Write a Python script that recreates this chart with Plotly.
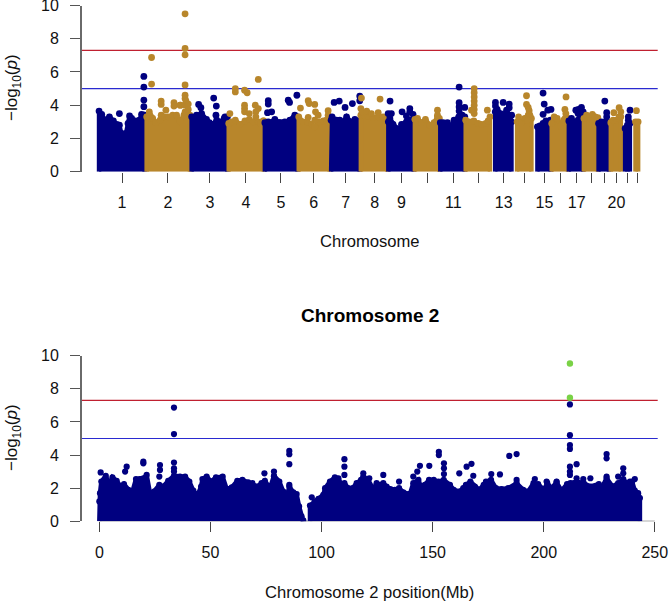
import plotly.graph_objects as go

W, H = 669, 601
NAVY = "#000080"
GOLD = "#b8862b"
GREEN = "#7ad246"
RED = "#c02030"
BLUE = "#2a2ad0"
AXIS = "#555555"
FONT = "Liberation Sans"

chr_sizes = [249, 243, 198, 191, 181, 171, 159, 146, 141, 135, 135, 133,
             115, 107, 102, 90, 81, 78, 59, 63, 48, 51]

genome_ticks = [125, 369, 592, 783, 969, 1144, 1313, 1467, 1610, 1885, 2153, 2369, 2541, 2752]
genome_labels = ["1", "2", "3", "4", "5", "6", "7", "8", "9", "11", "13", "15", "17", "20"]
genome_unlabelled_ticks = [1748, 2019, 2265, 2456, 2620, 2690, 2812, 2865]

# upper outline of the dense cloud, genome-wide
mass_x = [3, 17, 35, 58, 79, 97, 111, 122, 134, 146, 157, 165, 176, 194, 217, 229, 245,
          256, 270, 288, 305, 327, 348, 371, 394, 415, 433, 454, 468, 486,
          495, 521, 548, 574, 589, 606, 628, 649, 668, 685,
          692, 707, 727, 752, 778, 801, 822, 849, 861, 878,
          884, 902, 928, 955, 964, 990, 1017, 1043, 1058,
          1064, 1087, 1110, 1132, 1149, 1171, 1194, 1211, 1228,
          1236, 1241, 1264, 1282, 1300, 1318, 1341, 1362, 1374, 1388,
          1394, 1411, 1433, 1459, 1486, 1512, 1534,
          1540, 1548, 1565, 1583, 1595, 1610, 1636, 1654, 1675,
          1681, 1695, 1716, 1737, 1760, 1783, 1801, 1811,
          1816, 1831, 1854, 1872, 1889, 1914, 1932, 1946,
          1951, 1970, 1994, 2017, 2035, 2058, 2070, 2080,
          2108, 2118, 2136, 2154, 2171, 2186, 2194,
          2224, 2232, 2247, 2265, 2283, 2300,
          2332, 2345, 2362, 2377, 2389, 2403,
          2408, 2421, 2437, 2454, 2469, 2479, 2494,
          2499, 2513, 2531, 2548, 2561, 2575,
          2579, 2593, 2610, 2624, 2639, 2653,
          2657, 2672, 2690, 2700, 2712,
          2722, 2734, 2752, 2766, 2775,
          2798, 2810, 2823,
          2853, 2867, 2879]
mass_y = [3.65, 3.45, 3.1, 3.3, 3.05, 2.85, 2.8, 2.3, 1.7, 2.3, 2.9, 3.35, 3.2, 3.05, 3.1, 3.45, 3.4,
          3.3, 3.6, 3.2, 2.95, 3.1, 3.3, 3.3, 3.4, 3.4, 3.05, 3.4, 3.55, 3.4,
          3.3, 3.4, 3.5, 3.15, 2.95, 2.85, 3.1, 3.0, 3.2, 3.3,
          2.9, 3.0, 3.1, 2.85, 3.05, 3.15, 3.0, 3.0, 2.9, 3.05,
          2.95, 3.0, 3.0, 2.95, 2.95, 3.0, 3.1, 3.4, 3.3,
          3.3, 3.0, 3.0, 2.85, 2.7, 3.0, 3.05, 3.1, 3.1,
          3.1, 3.3, 3.1, 3.1, 3.0, 3.3, 3.0, 3.15, 3.05, 2.97,
          3.4, 3.4, 3.35, 3.25, 3.3, 3.3, 3.2,
          3.0, 3.2, 2.85, 2.6, 2.4, 2.85, 3.0, 3.1, 3.2,
          3.15, 3.2, 2.95, 3.15, 2.8, 2.95, 3.3, 3.2,
          2.95, 2.95, 2.95, 2.7, 3.1, 3.3, 3.4, 3.3,
          3.1, 3.0, 3.05, 2.9, 2.85, 2.9, 3.05, 3.3,
          3.6, 3.75, 3.5, 3.45, 3.5, 3.4, 3.0,
          3.0, 3.3, 2.95, 3.2, 3.4, 3.2,
          2.7, 2.75, 2.9, 3.05, 3.0, 3.05,
          2.9, 3.3, 3.2, 2.75, 3.0, 3.2, 3.2,
          3.05, 3.2, 2.95, 3.1, 3.3, 3.3,
          3.2, 3.4, 3.3, 3.45, 3.3, 3.25,
          2.9, 3.0, 3.0, 2.95, 2.95,
          2.95, 3.1, 3.1, 3.2, 3.3,
          2.6, 2.8, 2.9,
          3.0, 3.0, 3.3]

# isolated points standing above the cloud
peak_x = [111, 241, 241, 241, 241, 241,
          282, 282, 333, 333, 333, 358, 401, 401, 433, 436, 460, 460, 460, 460, 460, 460, 460, 460, 465, 477, 477,
          532, 544, 612, 626, 624, 672,
          698, 727, 727, 776, 790, 776, 776, 776, 801, 833, 849, 836, 836, 849, 875,
          902, 902, 898, 920, 937, 1008, 1015, 1054,
          1073, 1114, 1119, 1149, 1114, 1153, 1167, 1149, 1220, 1220,
          1252, 1279, 1310, 1349, 1388, 1388,
          1397, 1394, 1401, 1425, 1450, 1486, 1496,
          1549, 1556, 1539, 1613, 1654, 1654, 1636, 1671,
          1801, 1801,
          1916, 1916, 1916, 1916, 1946,
          1996, 1996, 1996, 1996, 1996, 1996, 1996, 1982, 2066,
          2109, 2109, 2150, 2182, 2182, 2168, 2195,
          2274, 2274, 2283, 2288, 2292, 2279,
          2362, 2368, 2387, 2404, 2362, 2401,
          2484, 2478, 2483, 2472,
          2536, 2550, 2566, 2575, 2548,
          2690, 2700, 2700,
          2738, 2766, 2775, 2766,
          2824, 2815, 2815,
          2858, 2879]
peak_y = [3.5, 5.73, 5.09, 4.31, 3.91, 3.41,
          6.87, 5.27, 4.25, 4.05, 3.4, 3.7, 4.15, 3.95, 4.0, 4.0, 9.5, 7.42, 7.03, 5.22, 4.6, 4.4, 4.0, 3.6, 4.25, 4.07, 3.75,
          4.05, 3.85, 4.43, 3.95, 3.4, 3.3,
          3.5, 5.0, 4.8, 4.9, 4.75, 4.0, 3.8, 3.6, 3.5, 4.0, 3.8, 3.6, 3.3, 5.55, 3.05,
          4.27, 4.07, 3.55, 3.6, 3.15, 4.3, 4.17, 4.6,
          3.83, 4.27, 4.1, 4.05, 3.27, 3.6, 3.4, 3.1, 3.67, 3.4,
          4.17, 4.25, 3.87, 4.1, 4.55, 4.27,
          4.43, 3.8, 3.6, 3.65, 3.5, 3.55, 4.37,
          4.25, 3.5, 3.5, 3.6, 3.8, 3.6, 3.35, 3.45,
          3.7, 3.4,
          5.09, 4.15, 3.9, 3.65, 3.87,
          5.0, 4.75, 4.5, 4.25, 4.0, 3.75, 3.5, 3.7, 3.7,
          4.17, 3.95, 4.17, 4.07, 3.85, 3.7, 3.4,
          4.57, 4.05, 3.87, 3.67, 3.4, 3.1,
          4.73, 4.07, 3.7, 3.75, 3.45, 3.1,
          4.5, 3.75, 3.5, 3.1,
          3.7, 3.75, 3.87, 3.6, 3.5,
          4.25, 3.55, 3.3,
          3.55, 3.85, 3.6, 3.3,
          3.7, 3.3, 3.1,
          3.67, 3.35]

chr2_ticks = [0, 50, 100, 150, 200, 250]
chr2_gap_mb = 93

# chromosome 2 cloud outline
chr2_mass_x = [0.0, 0.3, 0.9, 2.9, 4.5, 5.9, 7.8, 9.6, 11.1, 13.1, 14.6, 16.5, 18.3, 19.8, 21.3, 22.8,
               24.6, 27, 28.8, 31, 33.6, 36.3, 38.6, 40.5, 42.3, 44.1, 45.8, 46.4, 48.3, 50.3, 52.5,
               55.5, 57.3, 59.6, 62.1, 64.4, 67, 68.9, 71.1, 73, 74.5, 76.8, 78.6, 81, 82.8, 84.6,
               85.5, 87.3, 88.8, 89.9, 91, 91.8,
               94.8, 97, 98.6, 100.8, 101.6, 103.8, 106, 107.6, 109, 110.3, 112, 114, 115.8, 117.8,
               118.8, 121, 123, 124.8, 126.5, 127.8, 129.3, 131, 133, 134.9, 136.8, 139.8, 141.3,
               143.6, 145, 146.5, 148.4, 150.5, 152.6, 155, 157.8, 159.5, 161.9, 163.8,
               165, 167, 169, 171, 173, 174, 176.3, 178.5, 181, 184, 187.8, 190.8, 193, 195.4, 197.5,
               200, 201.6, 203.5, 205.8, 208, 210.5, 212, 214.8, 218, 221, 224.8, 226, 228.3, 231,
               233.5, 235.8, 238, 239.8, 241, 242.5, 243.3]
chr2_mass_y = [1.2, 1.7, 2.4, 2.75, 2.2, 2.65, 2.45, 2.1, 2.25, 1.9, 1.65, 2.55, 2.55, 2.6, 2.8, 1.7,
               1.8, 2.2, 2.1, 2.45, 2.75, 2.7, 2.7, 2.4, 1.85, 1.55, 2.1, 2.55, 2.7, 2.4, 2.65,
               2.7, 1.95, 2.05, 2.45, 2.5, 2.35, 2.3, 2.1, 2.3, 2.45, 2.0, 2.75, 2.4, 1.8, 1.6,
               2.1, 1.75, 1.65, 0.9, 0.3, 0.05,
               0.95, 1.2, 1.35, 1.6, 2.0, 2.4, 2.65, 2.6, 2.2, 2.3, 2.0, 2.0, 2.3, 2.5,
               2.7, 2.5, 2.0, 2.2, 2.2, 2.3, 2.1, 1.95, 1.9, 2.0, 1.75, 1.65, 2.3,
               2.5, 2.0, 2.2, 2.5, 2.5, 2.4, 2.5, 2.2, 1.9, 1.8, 2.0,
               2.2, 2.4, 2.1, 1.9, 2.2, 2.4, 2.5, 2.0, 1.95, 2.0, 2.3, 1.9, 1.8, 2.3, 2.25,
               1.9, 2.3, 2.0, 2.35, 1.85, 2.25, 2.3, 2.4, 2.3, 2.1, 2.25, 2.0, 2.6, 2.1,
               2.3, 2.55, 2.2, 2.4, 1.85, 1.7, 1.4]

chr2_peak_x = [33.6, 33.6, 33.6, 33.6, 33.6, 0.6, 11.6, 12.3, 19.8, 19.8, 27.3, 27.3, 27, 74.3, 78.6, 78.6,
               85.5, 85.5, 85.5, 85.5, 95.6, 110.3, 110.3, 110.3, 118.8, 121.5, 124.8, 127.8, 134.9,
               141.3, 143.1, 144.3, 148.5, 152.8, 152.8, 155.1, 155.1, 155.1, 162, 165.3, 167.5, 168.3,
               176.4, 180.3, 184.5, 187.8, 187.8, 196, 201.3, 205.8,
               211.8, 211.8, 211.8, 211.8, 211.8, 211.8, 211.8, 214.8, 214.8, 217.8, 221,
               228.3, 228.3, 228.3, 235.8, 235.8, 233.5, 238.8, 241]
chr2_peak_y = [6.87, 5.27, 3.55, 3.2, 3.0, 2.95, 3.0, 3.3, 3.6, 3.5, 3.4, 3.1, 2.7, 2.9, 3.0, 2.7,
               4.25, 4.05, 3.45, 2.2, 1.45, 3.75, 3.3, 2.8, 2.9, 2.6, 2.3, 2.8, 2.4,
               2.7, 3.0, 3.35, 3.35, 4.2, 4.0, 3.5, 3.2, 2.85, 2.9, 3.3, 3.47, 2.75,
               2.85, 2.83, 3.95, 4.06, 2.5, 2.55, 2.4, 2.4,
               7.06, 5.2, 4.6, 4.37, 3.3, 3.0, 2.8, 3.45, 2.6, 2.55, 2.6,
               4.06, 3.8, 2.7, 3.2, 2.9, 2.7, 2.4, 2.55]

chr2_hit_x = [211.8, 211.8]
chr2_hit_y = [9.53, 7.46]

thresholds = [(7.3, RED), (5.0, BLUE)]

fig = go.Figure()
LW = 4.5
MS = 6.8


def mass_trace(xs, ys, color, xaxis, yaxis, lw=LW, ms=MS):
    fig.add_trace(go.Scatter(
        x=[xs[0]] + xs + [xs[-1]], y=[0] + ys + [0], mode="lines", fill="toself",
        fillcolor=color, line=dict(color=color, width=lw), xaxis=xaxis, yaxis=yaxis,
        hoverinfo="skip"))
    fig.add_trace(go.Scatter(
        x=xs, y=ys, mode="markers", marker=dict(color=color, size=ms, line=dict(width=0)),
        xaxis=xaxis, yaxis=yaxis, hoverinfo="skip"))


start = 0
for i, size in enumerate(chr_sizes):
    end = start + size
    color = NAVY if i % 2 == 0 else GOLD
    sel = [k for k, x in enumerate(mass_x) if start <= x < end]
    mass_trace([mass_x[k] for k in sel], [mass_y[k] for k in sel], color, "x", "y")
    psel = [k for k, x in enumerate(peak_x) if start <= x < end]
    if psel:
        fig.add_trace(go.Scatter(
            x=[peak_x[k] for k in psel], y=[peak_y[k] for k in psel], mode="markers",
            marker=dict(color=color, size=MS, line=dict(width=0)), xaxis="x", yaxis="y",
            hoverinfo="skip"))
    start = end

# chromosome 2 panel
fig.add_trace(go.Scatter(x=[chr2_ticks[0], chr2_ticks[-1]], y=[0, 0], mode="lines",
                         line=dict(color="#333333", width=1), cliponaxis=False,
                         xaxis="x2", yaxis="y2", hoverinfo="skip"))
for lo, hi in ((-1, chr2_gap_mb), (chr2_gap_mb, 300)):
    sel = [k for k, x in enumerate(chr2_mass_x) if lo < x <= hi]
    mass_trace([chr2_mass_x[k] for k in sel], [chr2_mass_y[k] for k in sel], NAVY, "x2", "y2",
               lw=4.5, ms=6.2)
fig.add_trace(go.Scatter(x=chr2_peak_x, y=chr2_peak_y, mode="markers",
                         marker=dict(color=NAVY, size=6.2, line=dict(width=0)),
                         xaxis="x2", yaxis="y2", hoverinfo="skip"))
fig.add_trace(go.Scatter(x=chr2_hit_x, y=chr2_hit_y, mode="markers",
                         marker=dict(color=GREEN, size=6.4, line=dict(width=0)),
                         xaxis="x2", yaxis="y2", hoverinfo="skip"))

shapes = []
for xr, yr in (("x domain", "y"), ("x2 domain", "y2")):
    for val, col in thresholds:
        shapes.append(dict(type="line", xref=xr, yref=yr, x0=0, x1=1, y0=val, y1=val,
                           line=dict(color=col, width=1.2), layer="below"))


def py(p):
    return 1 - p / H


def px(p):
    return p / W


tick_font = dict(family=FONT, size=16, color="#111111")
y_common = dict(range=[0, 10], tickvals=[0, 2, 4, 6, 8, 10], ticks="outside", ticklen=10, tickwidth=1,
                tickcolor=AXIS, showline=True, linecolor="#6a6a6a", linewidth=2, showgrid=False,
                zeroline=False, tickfont=tick_font, ticklabelstandoff=8, ticklabeloverflow="allow",
                automargin=False)
x_common = dict(ticks="outside", ticklen=10, tickwidth=1, tickcolor="#444444", showline=False,
                showgrid=False, zeroline=False, tickfont=tick_font, ticklabelstandoff=6,
                ticklabeloverflow="allow", automargin=False,
                domain=[px(82), px(657.7)], tickmode="array")

txt = dict(family=FONT, size=16.6, color="#111111")
ylab = dict(family=FONT, size=17, color="#111111")
common_note = dict(xref="paper", yref="paper", showarrow=False, xanchor="center", yanchor="middle")
annotations = [
    dict(text="Chromosome", x=px(369.5), y=py(242), font=txt, **common_note),
    dict(text="Chromosome 2 position(Mb)", x=px(369.5), y=py(592), font=txt, **common_note),
    dict(text="<b>Chromosome 2</b>", x=px(370), y=py(315),
         font=dict(family=FONT, size=19, color="#000000"), **common_note),
    dict(text="−log<sub>10</sub>(<i>p</i>)", x=px(13), y=py(88), textangle=-90, font=ylab, **common_note),
    dict(text="−log<sub>10</sub>(<i>p</i>)", x=px(13), y=py(438), textangle=-90, font=ylab, **common_note),
]

fig.update_layout(
    width=W, height=H, margin=dict(l=0, r=0, t=0, b=0, pad=0), autosize=False,
    paper_bgcolor="white", plot_bgcolor="white", showlegend=False, hovermode=False,
    shapes=shapes, annotations=annotations,
    xaxis=dict(range=[-87.6, 2971], tickvals=genome_ticks, ticktext=genome_labels, anchor="y",
               minor=dict(tickmode="array", tickvals=genome_unlabelled_ticks, ticks="outside",
                          ticklen=10, tickwidth=1, tickcolor="#444444", showgrid=False),
               **x_common),
    yaxis=dict(domain=[py(171.7), py(5.5)], anchor="x", **y_common),
    xaxis2=dict(range=[-7.8, 251.3], tickvals=chr2_ticks, ticktext=[str(t) for t in chr2_ticks],
                anchor="y2", **x_common),
    yaxis2=dict(domain=[py(521.3), py(355.7)], anchor="x2", **y_common),
)

fig.write_html("out.html", config={"displayModeBar": False},
               post_script="document.body.style.margin='0';document.documentElement.style.overflow='hidden';")
